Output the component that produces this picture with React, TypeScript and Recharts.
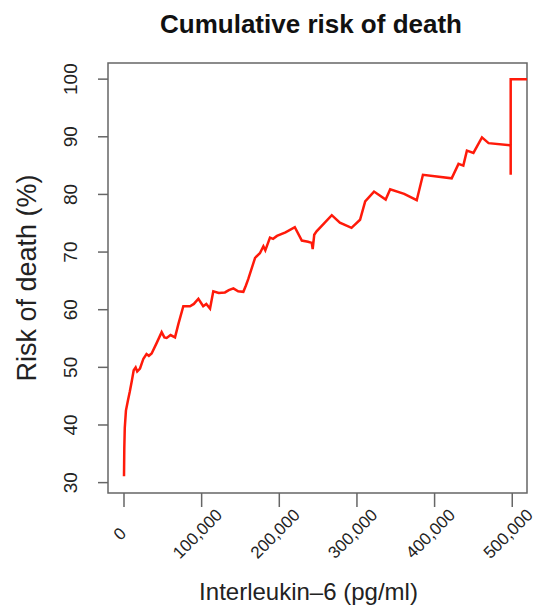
import React from 'react';
import { LineChart, Line, XAxis, YAxis, ReferenceArea, Label } from 'recharts';

// Interleukin-6 (pg/ml) and the cumulative risk
const il6 = [
  0, 400, 1000, 2500, 5000, 7500, 10000, 12500, 15000, 17000, 20600, 25000,
  29000, 32000, 35600, 42000, 48500, 52000, 55000, 60000, 65700, 70000, 76400,
  85000, 90000, 95800, 102000, 106000, 110800, 115000, 122000, 130000, 135000,
  140900, 147000, 153700, 157000, 160000, 168800, 175000, 179500, 182000,
  188000, 192000, 197000, 208000, 220000, 229000, 237000, 241800, 243000,
  245000, 248000, 258000, 267600, 278000, 293000, 304000, 310600, 322000,
  337000, 342800, 360800, 377000, 385000, 422000, 430800, 437000, 441600,
  450000, 461000, 469500, 498000, 498000, 498000, 519000,
];
const risk = [
  31.1, 36.0, 39.5, 42.5, 44.2, 45.8, 47.6, 49.5, 50.0, 49.3, 49.8, 51.5,
  52.3, 52.0, 52.4, 54.2, 56.1, 55.2, 55.1, 55.6, 55.2, 57.5, 60.6,
  60.6, 61.0, 61.9, 60.6, 61.0, 60.2, 63.2, 62.9, 63.0, 63.4,
  63.7, 63.2, 63.1, 64.2, 65.3, 69.0, 69.8, 71.0, 70.3,
  72.5, 72.3, 72.8, 73.4, 74.3, 72.0, 71.8, 71.6, 70.5,
  73.0, 73.6, 75.0, 76.4, 75.1, 74.2, 75.6, 78.8, 80.5,
  79.1, 80.9, 80.1, 79.0, 83.4, 82.8, 85.3, 85.0, 87.6,
  87.2, 89.9, 88.9, 88.5, 83.4, 100, 100,
];
const xTicks = [0, 100000, 200000, 300000, 400000, 500000];
const yTicks = [30, 40, 50, 60, 70, 80, 90, 100];
const xDomain = [-20600, 519000];
const yDomain = [28.2, 102.8];

const data = il6.map((v, i) => ({ il6: v, risk: risk[i] }));

const FONT = '"Liberation Sans", Arial, sans-serif';

const XTick = (props: any) => {
  const { x, y, payload } = props;
  const cx = x - 4;
  const cy = y + 27;
  return (
    <text x={cx} y={cy} transform={`rotate(-45 ${cx} ${cy})`} textAnchor="middle"
      dominantBaseline="central" fontSize={17} fontFamily={FONT} fill="#222">
      {Number(payload.value).toLocaleString('en-US')}
    </text>
  );
};

const YTick = (props: any) => {
  const { x, y, payload } = props;
  const cx = x - 27;
  return (
    <text x={cx} y={y} transform={`rotate(-90 ${cx} ${y})`} textAnchor="middle"
      dominantBaseline="central" fontSize={19} fontFamily={FONT} fill="#222">
      {payload.value}
    </text>
  );
};

export default function App() {
  return (
    <div style={{ position: 'absolute', left: 0, top: 0, width: 550, height: 616, background: '#fff' }}>
      <div style={{ position: 'absolute', left: 0, width: 622, top: 9, textAlign: 'center',
        fontFamily: FONT, fontWeight: 'bold', fontSize: 26, color: '#111', lineHeight: '30px' }}>
        Cumulative risk of death
      </div>
      <LineChart width={550} height={616} data={data}
        margin={{ top: 63, right: 23, left: 0, bottom: 0 }}>
        <XAxis dataKey="il6" type="number" domain={xDomain} ticks={xTicks} allowDataOverflow
          axisLine={false} tickSize={14} tickMargin={0} height={123}
          tickLine={{ stroke: '#666', strokeWidth: 1.5 }} tick={<XTick />} interval={0}>
          <Label content={(p: any) => {
            const vb = p.viewBox;
            return (
              <text x={vb.x + vb.width / 2 - 9} y={600} textAnchor="middle" fontSize={24}
                fontFamily={FONT} fill="#222">Interleukin–6 (pg/ml)</text>
            );
          }} />
        </XAxis>
        <YAxis type="number" domain={yDomain} ticks={yTicks} allowDataOverflow
          axisLine={false} tickSize={10} tickMargin={0} width={108}
          tickLine={{ stroke: '#666', strokeWidth: 1.5 }} tick={<YTick />} interval={0}>
          <Label content={(p: any) => {
            const vb = p.viewBox;
            const cx = 27;
            const cy = vb.y + vb.height / 2;
            return (
              <text x={cx} y={cy} transform={`rotate(-90 ${cx} ${cy})`} textAnchor="middle"
                dominantBaseline="central" fontSize={27} fontFamily={FONT} fill="#222">
                Risk of death (%)
              </text>
            );
          }} />
        </YAxis>
        <ReferenceArea x1={xDomain[0]} x2={xDomain[1]} y1={yDomain[0]} y2={yDomain[1]}
          fill="none" stroke="#666" strokeWidth={1.5} ifOverflow="visible" />
        <Line type="linear" dataKey="risk" stroke="#ff1a0a" strokeWidth={2.5} dot={false}
          activeDot={false} isAnimationActive={false} />
      </LineChart>
    </div>
  );
}
